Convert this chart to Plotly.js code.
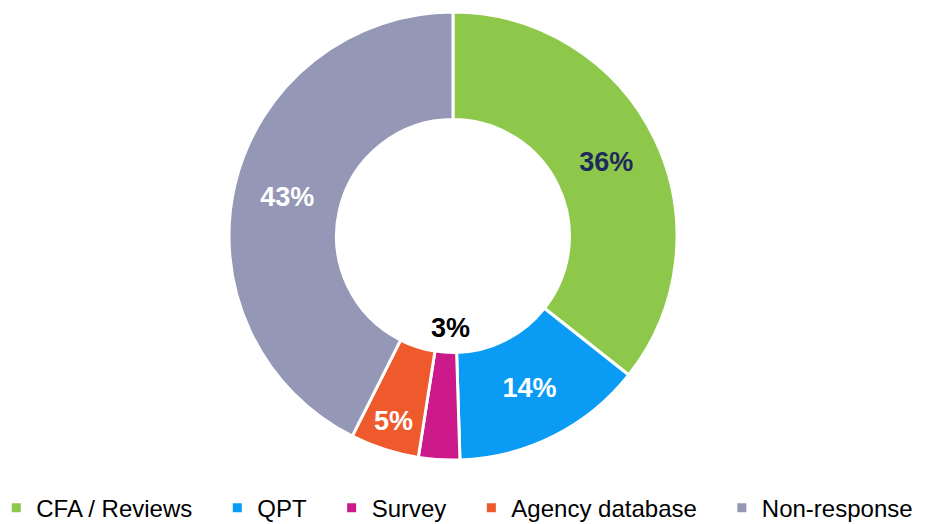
<!DOCTYPE html>
<html>
<head>
<meta charset="utf-8">
<script src="https://cdn.plot.ly/plotly-3.0.1.min.js"></script>
<style>html,body{margin:0;padding:0;background:#fff;}#chart{width:940px;height:524px;}</style>
</head>
<body>
<div id="chart"></div>
<script>
const categories = ['CFA / Reviews', 'QPT', 'Survey', 'Agency database', 'Non-response'];
const values = [36, 14, 3, 5, 43];
const sliceColors = ['#8DC84B', '#0A9CF5', '#CC1A8A', '#EE5A2C', '#9497B5'];
const labelColors = ['#1F2A5C', '#FFFFFF', '#000000', '#FFFFFF', '#FFFFFF'];
const labelText = values.map(v => v + '%');
const textPositions = categories.map((c, i) => i === 2 ? 'none' : 'inside');
const pad = '\u00A0\u00A0\u00A0';

const trace = {
  type: 'pie',
  labels: categories.map((c, i) => i < categories.length - 1 ? c + pad : c),
  values: values,
  text: labelText,
  textinfo: 'text',
  textposition: textPositions,
  insidetextorientation: 'horizontal',
  textfont: { family: 'Liberation Sans, Arial, sans-serif', size: 27, color: labelColors, weight: 'bold' },
  hole: 0.52,
  sort: false,
  direction: 'clockwise',
  rotation: 0,
  marker: { colors: sliceColors, line: { color: '#FFFFFF', width: 3 } },
  domain: { x: [0.2420, 0.7218], y: [0.122, 0.977] },
  hoverinfo: 'none'
};

const layout = {
  width: 940, height: 524,
  margin: { l: 0, r: 0, t: 0, b: 0, autoexpand: false },
  paper_bgcolor: '#FFFFFF',
  showlegend: true,
  legend: {
    orientation: 'h', x: -0.004, xanchor: 'left', y: -0.0125, yanchor: 'bottom',
    font: { family: 'Liberation Sans, Arial, sans-serif', size: 24, color: '#000' },
    itemwidth: 30
  },
  annotations: [{
    xref: 'paper', yref: 'paper', x: 0.479, y: 0.374,
    text: '<b>' + labelText[2] + '</b>', showarrow: false,
    font: { family: 'Liberation Sans, Arial, sans-serif', size: 27, color: '#000000' }
  }]
};

Plotly.newPlot('chart', [trace], layout, { displayModeBar: false, staticPlot: true });
</script>
</body>
</html>
